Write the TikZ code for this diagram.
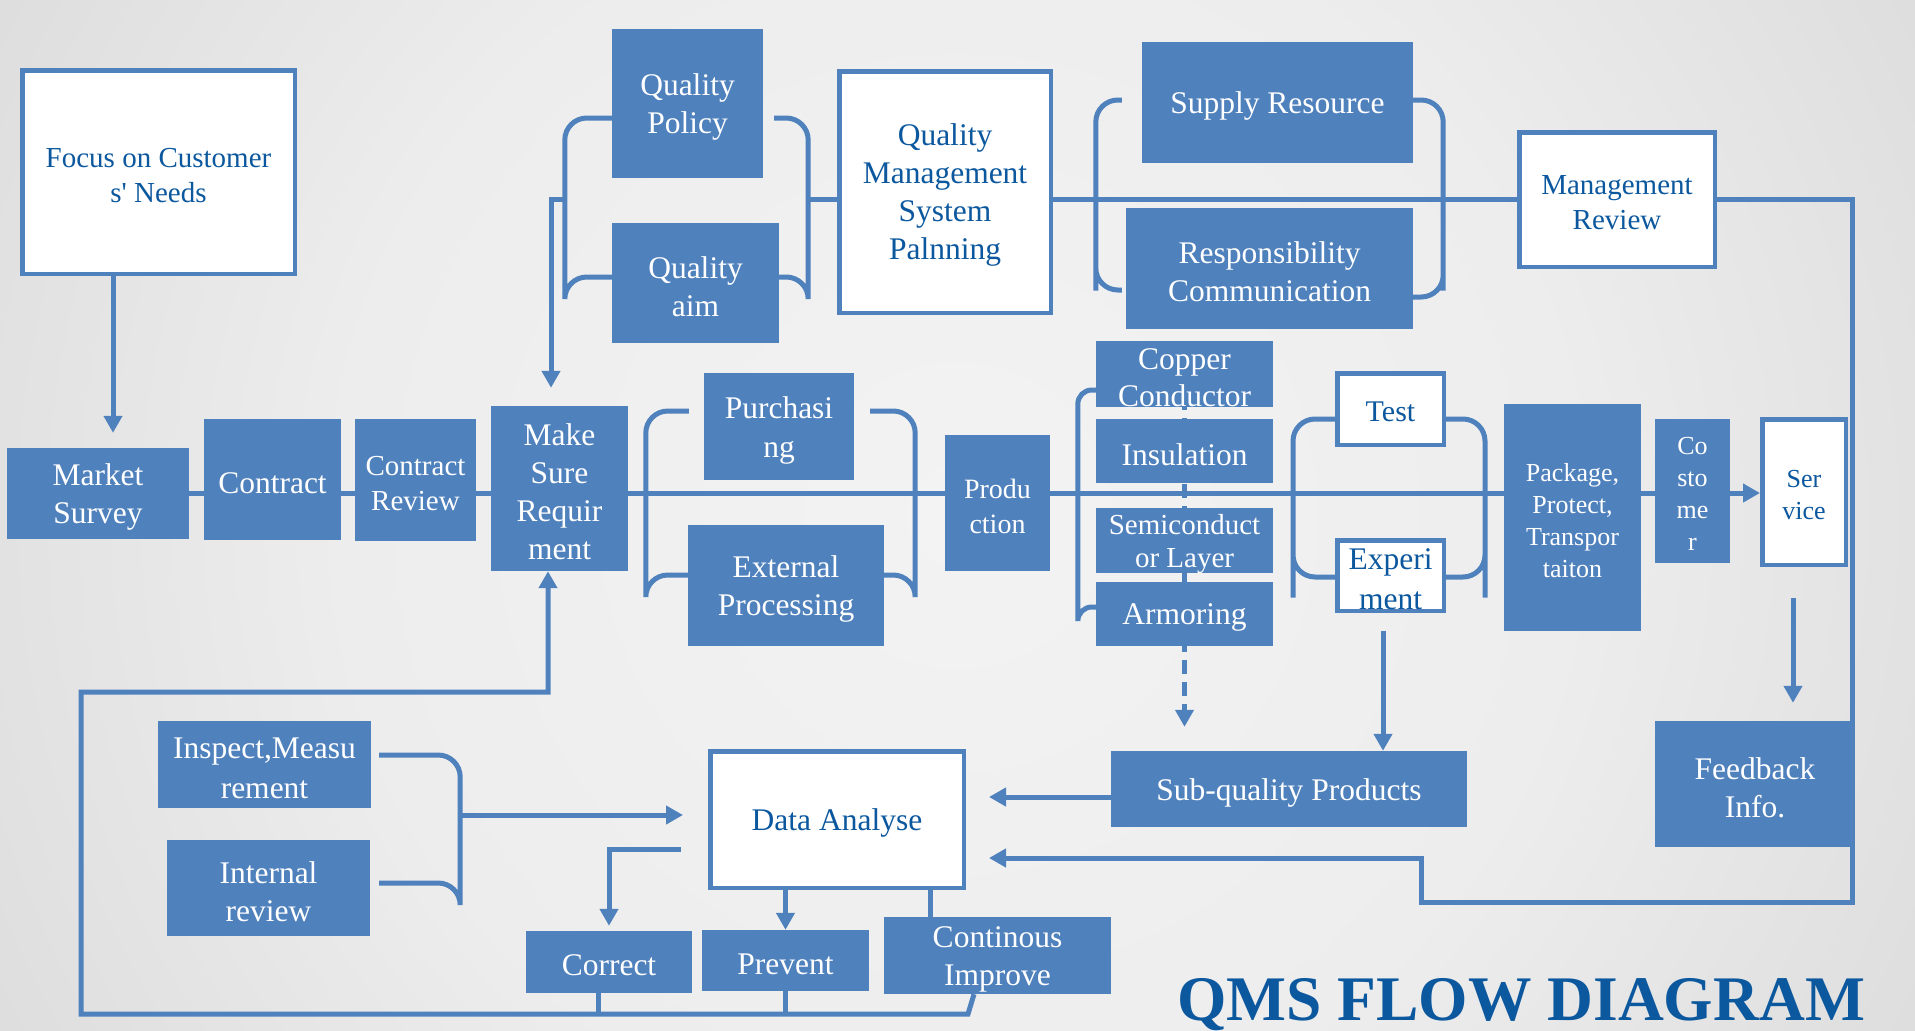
\documentclass[tikz,border=0pt]{standalone}
\usepackage{fontspec}
\setmainfont{Liberation Serif}
\usetikzlibrary{arrows.meta}
\definecolor{qmsblue}{RGB}{79,129,189}
\definecolor{qmstext}{RGB}{12,88,158}
\definecolor{bgA}{RGB}{243,243,243}
\definecolor{bgB}{RGB}{237,237,237}
\definecolor{bgC}{RGB}{200,200,200}
\definecolor{bgD}{RGB}{184,184,184}
\pgfdeclareradialshading{bgshade}{\pgfpoint{0bp}{0bp}}{color(0bp)=(bgA); color(14bp)=(bgB); color(40bp)=(bgC); color(50bp)=(bgD)}
\pgfdeclarelayer{back}
\pgfdeclarelayer{wires}
\pgfsetlayers{back,wires,main}
\newbox\qsbox

\begin{document}
\begin{tikzpicture}[x=1pt, y=-1pt,
  blk/.style={fill=qmsblue, text=white, inner sep=0pt, align=center, font=\fontsize{31.5}{38}\selectfont,
    execute at begin node={\setbox\qsbox=\hbox\bgroup},
    execute at end node={\egroup\ht\qsbox=\dimexpr\ht\qsbox+0.22em\relax\box\qsbox}},
  wbox/.style={blk, fill=white, draw=qmsblue, line width=4.5pt, text=qmstext},
  sz/.style 2 args={minimum width=#1pt, minimum height=#2pt},
  ln/.style={draw=qmsblue, line width=5pt},
  arr/.style={ln, -{Triangle[length=17pt,width=18pt]}},
  brk/.style={ln, rounded corners=22pt},
  dsh/.style={dash pattern=on 14pt off 8pt}]
\useasboundingbox (0,0) rectangle (1915,1031);

\node[wbox, sz={272.5}{203.5}, font=\fontsize{29}{35}\selectfont] (focus) at (158.5,172) {Focus on Customer\\s\textquotesingle{} Needs};
\node[blk, sz={182}{91}] (market) at (98,493) {Market\\Survey};
\node[blk, sz={137}{121}] (contract) at (272.5,479.5) {Contract};
\node[blk, sz={121}{122}, font=\fontsize{29}{35}\selectfont] (review) at (415.5,480) {Contract\\Review};
\node[blk, sz={137}{165}] (makesure) at (559.5,488.5) {Make\\Sure\\Requir\\ment};
\node[blk, sz={151}{149}] (policy) at (687.5,103.5) {Quality\\Policy};
\node[blk, sz={167}{120}] (aim) at (695.5,283) {Quality\\aim};
\node[wbox, sz={211.5}{241.5}] (qms) at (945,192) {Quality\\Management\\System\\Palnning};
\node[blk, sz={271}{121}] (supply) at (1277.5,102.5) {Supply Resource};
\node[blk, sz={287}{121}] (resp) at (1269.5,268.5) {Responsibility\\Communication};
\node[wbox, sz={195.5}{134.5}, font=\fontsize{29}{35}\selectfont] (mreview) at (1617,199.5) {Management\\Review};
\node[blk, sz={150}{107}, font=\fontsize{31.5}{39}\selectfont] (purch) at (779,426.5) {Purchasi\\ng};
\node[blk, sz={196}{121}] (extproc) at (786,585.5) {External\\Processing};
\node[blk, sz={105}{136}, font=\fontsize{28}{35}\selectfont] (prod) at (997.5,503) {Produ\\ction};
\node[blk, sz={177}{64}, font=\fontsize{31.5}{37}\selectfont] (copper) at (1184.5,374) {Copper\\Conductor};
\node[blk, sz={177}{64}] (insul) at (1184.5,451) {Insulation};
\node[blk, sz={177}{63}, font=\fontsize{29}{33}\selectfont] (semi) at (1184.5,540.5) {Semiconduct\\or Layer};
\node[blk, sz={177}{64}] (armor) at (1184.5,614) {Armoring};
\node[wbox, sz={106.5}{71.5}, font=\fontsize{30}{36}\selectfont] (test) at (1390.5,409) {Test};
\node[wbox, sz={106.5}{70.5}, font=\fontsize{31.5}{40}\selectfont] (exper) at (1390.5,575.5) {Experi\\ment};
\node[blk, sz={137}{227}, font=\fontsize{26}{32}\selectfont] (package) at (1572.5,517.5) {Package,\\Protect,\\Transpor\\taiton};
\node[blk, sz={75}{144}, font=\fontsize{26}{32}\selectfont] (costomer) at (1692.5,491) {Co\\sto\\me\\r};
\node[wbox, sz={83.5}{145.5}, font=\fontsize{26}{32}\selectfont] (service) at (1804,492) {Ser\\vice};
\node[blk, sz={200}{126}] (feedback) at (1755,784) {Feedback\\Info.};
\node[blk, sz={356}{76}] (subq) at (1289,789) {Sub-quality Products};
\node[wbox, sz={253.5}{136.5}] (data) at (837,819.5) {Data Analyse};
\node[blk, sz={213}{87}, font=\fontsize{31.5}{40}\selectfont] (inspect) at (264.5,764.5) {Inspect,Measu\\rement};
\node[blk, sz={203}{96}] (internal) at (268.5,888) {Internal\\review};
\node[blk, sz={166}{62}] (correct) at (609,962) {Correct};
\node[blk, sz={167}{61}] (prevent) at (785.5,960.5) {Prevent};
\node[blk, sz={227}{77}] (improve) at (997.5,955.5) {Continous\\Improve};
\node[font=\fontsize{63.5}{70}\selectfont\bfseries, text=qmstext, anchor=base, inner sep=0pt] (title) at (1521,1020) {QMS FLOW DIAGRAM};

\coordinate (fbc) at (1852,902);
\coordinate (fbm) at (1421,858);
\coordinate (spin) at (460,815);
\coordinate (lpb) at (81,1014);
\coordinate (lpt) at (81,692);

\begin{pgfonlayer}{back}
\begin{scope}
\clip (0,0) rectangle (1915,1031);
\shade[shading=bgshade] (-142.5,-584.5) rectangle (2057.5,1615.5);
\end{scope}
\end{pgfonlayer}

\begin{pgfonlayer}{wires}
\draw[arr] (market.east) -- (market.east -| service.west);
\draw[arr, shorten >=14.5pt] ([xshift=-45.5pt]focus.south) -- ([xshift=-45.5pt]focus.south |- market.north);

\draw[ln] (qms.east |- mreview.west) -- (mreview.west);
\draw[brk] ([yshift=-14.5pt]policy.west) -| ([xshift=-47pt]aim.west) |- ([yshift=6pt]aim.west);
\draw[brk] ([xshift=11pt,yshift=-14.5pt]policy.east) -| ([xshift=29pt]aim.east) |- ([yshift=6pt]aim.east);
\draw[ln] ([xshift=29pt]aim.east |- mreview.west) -- (qms.west |- mreview.west);
\draw[arr, shorten >=18pt] ([xshift=-47pt]aim.west |- mreview.west) -| ([xshift=-8.5pt]makesure.north);
\draw[brk] ([xshift=-20pt,yshift=2.5pt]supply.west) -| ([xshift=-30pt]resp.west) |- ([xshift=-4pt,yshift=-21.5pt]resp.west);
\draw[brk] ([yshift=2.5pt]supply.east) -| ([xshift=30pt]resp.east) |- ([yshift=-28.5pt]resp.east);

\draw[brk] ([xshift=-15pt,yshift=15.5pt]purch.west) -| ([xshift=-42pt]extproc.west) |- ([yshift=10.5pt]extproc.west);
\draw[brk] ([xshift=16pt,yshift=15.5pt]purch.east) -| ([xshift=31pt]extproc.east) |- ([yshift=10.5pt]extproc.east);

\draw[brk, rounded corners=14pt] ([yshift=-16pt]copper.west) -| ([xshift=-18pt]armor.west) |- ([yshift=7pt]armor.west);
\draw[arr, dsh, shorten >=24pt] (copper.center) -- (copper.center |- subq.north);
\draw[brk] ([yshift=-10pt]test.west) -| ([xshift=-42pt]exper.west) |- ([yshift=-1.5pt]exper.west);
\draw[brk] ([yshift=-10pt]test.east) -| ([xshift=39pt]exper.east) |- ([yshift=-1.5pt]exper.east);
\draw[arr, shorten <=18pt] ([xshift=-7.5pt]exper.south) -- ([xshift=-7.5pt]exper.south |- subq.north);
\draw[arr, shorten <=31pt, shorten >=18pt] ([xshift=-11pt]service.south) -- ([xshift=-11pt]service.south |- feedback.north);

\draw[arr, shorten >=23pt] (mreview.east) -| (fbc) -| (fbm) -- (fbm -| data.east);
\draw[arr, shorten >=23pt] ([yshift=-8pt]subq.west) -- ([yshift=-8pt]subq.west -| data.east);

\draw[brk] ([xshift=8pt,yshift=9.5pt]inspect.east) -| ([xshift=90pt]internal.east) |- ([xshift=9pt,yshift=5pt]internal.east);
\draw[arr, shorten >=25pt] (spin) -- (spin -| data.west);
\draw[arr, shorten <=27pt, shorten >=5pt] ([yshift=-29.5pt]data.west) -| (correct.north);
\draw[arr] (data.south -| prevent.north) -- (prevent.north);
\draw[ln] ([xshift=-67.5pt]improve.north |- data.south) -- ([xshift=-67.5pt]improve.north);
\draw[arr] ([xshift=-23.5pt]improve.south) -- ([xshift=-29.5pt]improve.south |- lpb) -- (lpb) -- (lpt) -| ([xshift=-11.5pt]makesure.south);
\draw[ln] (prevent.south) -- (prevent.south |- lpb);
\draw[ln] ([xshift=-11pt]correct.south) -- ([xshift=-11pt]correct.south |- lpb);
\end{pgfonlayer}
\end{tikzpicture}
\end{document}
